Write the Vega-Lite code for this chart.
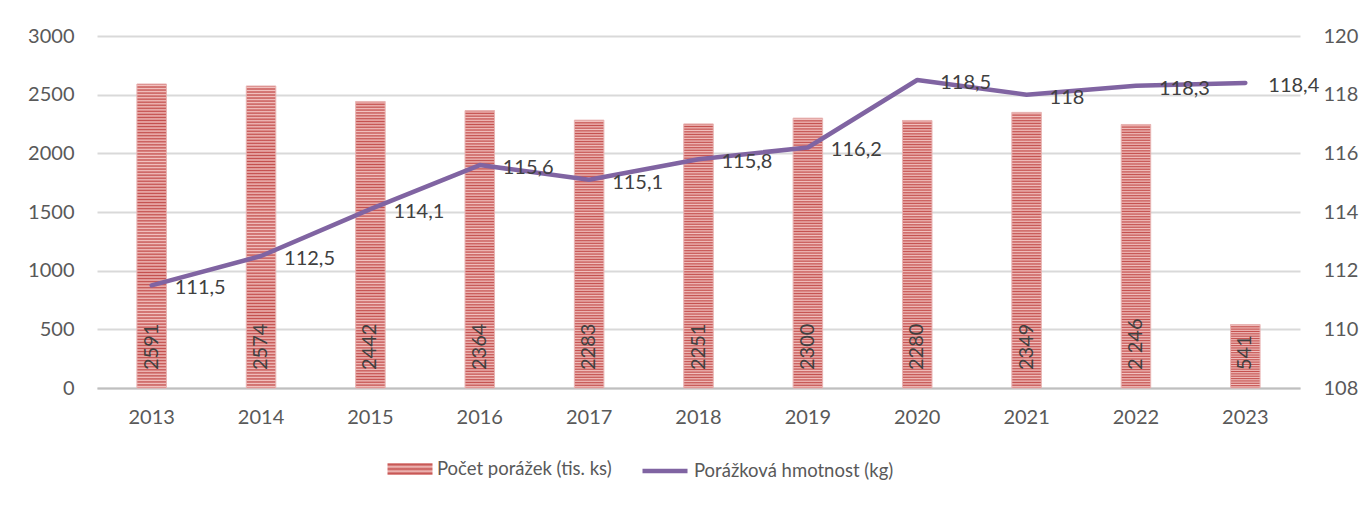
{
  "$schema": "https://vega.github.io/schema/vega-lite/v6.json",
  "width": 1203,
  "height": 352,
  "autosize": {"type": "none"},
  "padding": {"left": 97, "top": 36, "right": 69, "bottom": 117},
  "background": "white",
  "config": {
    "font": "Lato",
    "view": {"stroke": null},
    "axis": {"labelFont": "Lato", "labelFontSize": 20, "labelColor": "#595959", "title": null},
    "legend": {"labelFont": "Lato", "labelFontSize": 18.5, "labelColor": "#595959", "labelLimit": 500}
  },
  "data": {
    "values": [
      {"year": "2013", "count": 2591, "countLabel": "2591", "weight": 111.5, "weightLabel": "111,5"},
      {"year": "2014", "count": 2574, "countLabel": "2574", "weight": 112.5, "weightLabel": "112,5"},
      {"year": "2015", "count": 2442, "countLabel": "2442", "weight": 114.1, "weightLabel": "114,1"},
      {"year": "2016", "count": 2364, "countLabel": "2364", "weight": 115.6, "weightLabel": "115,6"},
      {"year": "2017", "count": 2283, "countLabel": "2283", "weight": 115.1, "weightLabel": "115,1"},
      {"year": "2018", "count": 2251, "countLabel": "2251", "weight": 115.8, "weightLabel": "115,8"},
      {"year": "2019", "count": 2300, "countLabel": "2300", "weight": 116.2, "weightLabel": "116,2"},
      {"year": "2020", "count": 2280, "countLabel": "2280", "weight": 118.5, "weightLabel": "118,5"},
      {"year": "2021", "count": 2349, "countLabel": "2349", "weight": 118.0, "weightLabel": "118"},
      {"year": "2022", "count": 2246, "countLabel": "2 246", "weight": 118.3, "weightLabel": "118,3"},
      {"year": "2023", "count": 541, "countLabel": "541", "weight": 118.4, "weightLabel": "118,4"}
    ]
  },
  "encoding": {
    "x": {
      "field": "year",
      "type": "nominal",
      "sort": null,
      "scale": {"paddingInner": 0.73, "paddingOuter": 0.365},
      "axis": {"labelAngle": 0, "ticks": false, "domainColor": "#BFBFBF", "domainWidth": 2, "labelPadding": 19, "grid": false}
    }
  },
  "layer": [
    {
      "layer": [
        {
          "mark": {"type": "bar", "stroke": "#E8B4B3", "strokeWidth": 1,
            "fill": {"gradient": "linear", "x1": 0, "y1": 0, "x2": 0, "y2": 1, "stops": [
                  {"offset": 0, "color": "#C4504E"}, {"offset": 0.005, "color": "#F2C2C0"},
                  {"offset": 0.01, "color": "#C4504E"}, {"offset": 0.015, "color": "#F2C2C0"},
                  {"offset": 0.02, "color": "#C4504E"}, {"offset": 0.025, "color": "#F2C2C0"},
                  {"offset": 0.03, "color": "#C4504E"}, {"offset": 0.035, "color": "#F2C2C0"},
                  {"offset": 0.04, "color": "#C4504E"}, {"offset": 0.045, "color": "#F2C2C0"},
                  {"offset": 0.05, "color": "#C4504E"}, {"offset": 0.055, "color": "#F2C2C0"},
                  {"offset": 0.06, "color": "#C4504E"}, {"offset": 0.065, "color": "#F2C2C0"},
                  {"offset": 0.07, "color": "#C4504E"}, {"offset": 0.075, "color": "#F2C2C0"},
                  {"offset": 0.08, "color": "#C4504E"}, {"offset": 0.085, "color": "#F2C2C0"},
                  {"offset": 0.09, "color": "#C4504E"}, {"offset": 0.095, "color": "#F2C2C0"},
                  {"offset": 0.1, "color": "#C4504E"}, {"offset": 0.105, "color": "#F2C2C0"},
                  {"offset": 0.11, "color": "#C4504E"}, {"offset": 0.115, "color": "#F2C2C0"},
                  {"offset": 0.12, "color": "#C4504E"}, {"offset": 0.125, "color": "#F2C2C0"},
                  {"offset": 0.13, "color": "#C4504E"}, {"offset": 0.135, "color": "#F2C2C0"},
                  {"offset": 0.14, "color": "#C4504E"}, {"offset": 0.145, "color": "#F2C2C0"},
                  {"offset": 0.15, "color": "#C4504E"}, {"offset": 0.155, "color": "#F2C2C0"},
                  {"offset": 0.16, "color": "#C4504E"}, {"offset": 0.165, "color": "#F2C2C0"},
                  {"offset": 0.17, "color": "#C4504E"}, {"offset": 0.175, "color": "#F2C2C0"},
                  {"offset": 0.18, "color": "#C4504E"}, {"offset": 0.185, "color": "#F2C2C0"},
                  {"offset": 0.19, "color": "#C4504E"}, {"offset": 0.195, "color": "#F2C2C0"},
                  {"offset": 0.2, "color": "#C4504E"}, {"offset": 0.205, "color": "#F2C2C0"},
                  {"offset": 0.21, "color": "#C4504E"}, {"offset": 0.215, "color": "#F2C2C0"},
                  {"offset": 0.22, "color": "#C4504E"}, {"offset": 0.225, "color": "#F2C2C0"},
                  {"offset": 0.23, "color": "#C4504E"}, {"offset": 0.235, "color": "#F2C2C0"},
                  {"offset": 0.24, "color": "#C4504E"}, {"offset": 0.245, "color": "#F2C2C0"},
                  {"offset": 0.25, "color": "#C4504E"}, {"offset": 0.255, "color": "#F2C2C0"},
                  {"offset": 0.26, "color": "#C4504E"}, {"offset": 0.265, "color": "#F2C2C0"},
                  {"offset": 0.27, "color": "#C4504E"}, {"offset": 0.275, "color": "#F2C2C0"},
                  {"offset": 0.28, "color": "#C4504E"}, {"offset": 0.285, "color": "#F2C2C0"},
                  {"offset": 0.29, "color": "#C4504E"}, {"offset": 0.295, "color": "#F2C2C0"},
                  {"offset": 0.3, "color": "#C4504E"}, {"offset": 0.305, "color": "#F2C2C0"},
                  {"offset": 0.31, "color": "#C4504E"}, {"offset": 0.315, "color": "#F2C2C0"},
                  {"offset": 0.32, "color": "#C4504E"}, {"offset": 0.325, "color": "#F2C2C0"},
                  {"offset": 0.33, "color": "#C4504E"}, {"offset": 0.335, "color": "#F2C2C0"},
                  {"offset": 0.34, "color": "#C4504E"}, {"offset": 0.345, "color": "#F2C2C0"},
                  {"offset": 0.35, "color": "#C4504E"}, {"offset": 0.355, "color": "#F2C2C0"},
                  {"offset": 0.36, "color": "#C4504E"}, {"offset": 0.365, "color": "#F2C2C0"},
                  {"offset": 0.37, "color": "#C4504E"}, {"offset": 0.375, "color": "#F2C2C0"},
                  {"offset": 0.38, "color": "#C4504E"}, {"offset": 0.385, "color": "#F2C2C0"},
                  {"offset": 0.39, "color": "#C4504E"}, {"offset": 0.395, "color": "#F2C2C0"},
                  {"offset": 0.4, "color": "#C4504E"}, {"offset": 0.405, "color": "#F2C2C0"},
                  {"offset": 0.41, "color": "#C4504E"}, {"offset": 0.415, "color": "#F2C2C0"},
                  {"offset": 0.42, "color": "#C4504E"}, {"offset": 0.425, "color": "#F2C2C0"},
                  {"offset": 0.43, "color": "#C4504E"}, {"offset": 0.435, "color": "#F2C2C0"},
                  {"offset": 0.44, "color": "#C4504E"}, {"offset": 0.445, "color": "#F2C2C0"},
                  {"offset": 0.45, "color": "#C4504E"}, {"offset": 0.455, "color": "#F2C2C0"},
                  {"offset": 0.46, "color": "#C4504E"}, {"offset": 0.465, "color": "#F2C2C0"},
                  {"offset": 0.47, "color": "#C4504E"}, {"offset": 0.475, "color": "#F2C2C0"},
                  {"offset": 0.48, "color": "#C4504E"}, {"offset": 0.485, "color": "#F2C2C0"},
                  {"offset": 0.49, "color": "#C4504E"}, {"offset": 0.495, "color": "#F2C2C0"},
                  {"offset": 0.5, "color": "#C4504E"}, {"offset": 0.505, "color": "#F2C2C0"},
                  {"offset": 0.51, "color": "#C4504E"}, {"offset": 0.515, "color": "#F2C2C0"},
                  {"offset": 0.52, "color": "#C4504E"}, {"offset": 0.525, "color": "#F2C2C0"},
                  {"offset": 0.53, "color": "#C4504E"}, {"offset": 0.535, "color": "#F2C2C0"},
                  {"offset": 0.54, "color": "#C4504E"}, {"offset": 0.545, "color": "#F2C2C0"},
                  {"offset": 0.55, "color": "#C4504E"}, {"offset": 0.555, "color": "#F2C2C0"},
                  {"offset": 0.56, "color": "#C4504E"}, {"offset": 0.565, "color": "#F2C2C0"},
                  {"offset": 0.57, "color": "#C4504E"}, {"offset": 0.575, "color": "#F2C2C0"},
                  {"offset": 0.58, "color": "#C4504E"}, {"offset": 0.585, "color": "#F2C2C0"},
                  {"offset": 0.59, "color": "#C4504E"}, {"offset": 0.595, "color": "#F2C2C0"},
                  {"offset": 0.6, "color": "#C4504E"}, {"offset": 0.605, "color": "#F2C2C0"},
                  {"offset": 0.61, "color": "#C4504E"}, {"offset": 0.615, "color": "#F2C2C0"},
                  {"offset": 0.62, "color": "#C4504E"}, {"offset": 0.625, "color": "#F2C2C0"},
                  {"offset": 0.63, "color": "#C4504E"}, {"offset": 0.635, "color": "#F2C2C0"},
                  {"offset": 0.64, "color": "#C4504E"}, {"offset": 0.645, "color": "#F2C2C0"},
                  {"offset": 0.65, "color": "#C4504E"}, {"offset": 0.655, "color": "#F2C2C0"},
                  {"offset": 0.66, "color": "#C4504E"}, {"offset": 0.665, "color": "#F2C2C0"},
                  {"offset": 0.67, "color": "#C4504E"}, {"offset": 0.675, "color": "#F2C2C0"},
                  {"offset": 0.68, "color": "#C4504E"}, {"offset": 0.685, "color": "#F2C2C0"},
                  {"offset": 0.69, "color": "#C4504E"}, {"offset": 0.695, "color": "#F2C2C0"},
                  {"offset": 0.7, "color": "#C4504E"}, {"offset": 0.705, "color": "#F2C2C0"},
                  {"offset": 0.71, "color": "#C4504E"}, {"offset": 0.715, "color": "#F2C2C0"},
                  {"offset": 0.72, "color": "#C4504E"}, {"offset": 0.725, "color": "#F2C2C0"},
                  {"offset": 0.73, "color": "#C4504E"}, {"offset": 0.735, "color": "#F2C2C0"},
                  {"offset": 0.74, "color": "#C4504E"}, {"offset": 0.745, "color": "#F2C2C0"},
                  {"offset": 0.75, "color": "#C4504E"}, {"offset": 0.755, "color": "#F2C2C0"},
                  {"offset": 0.76, "color": "#C4504E"}, {"offset": 0.765, "color": "#F2C2C0"},
                  {"offset": 0.77, "color": "#C4504E"}, {"offset": 0.775, "color": "#F2C2C0"},
                  {"offset": 0.78, "color": "#C4504E"}, {"offset": 0.785, "color": "#F2C2C0"},
                  {"offset": 0.79, "color": "#C4504E"}, {"offset": 0.795, "color": "#F2C2C0"},
                  {"offset": 0.8, "color": "#C4504E"}, {"offset": 0.805, "color": "#F2C2C0"},
                  {"offset": 0.81, "color": "#C4504E"}, {"offset": 0.815, "color": "#F2C2C0"},
                  {"offset": 0.82, "color": "#C4504E"}, {"offset": 0.825, "color": "#F2C2C0"},
                  {"offset": 0.83, "color": "#C4504E"}, {"offset": 0.835, "color": "#F2C2C0"},
                  {"offset": 0.84, "color": "#C4504E"}, {"offset": 0.845, "color": "#F2C2C0"},
                  {"offset": 0.85, "color": "#C4504E"}, {"offset": 0.855, "color": "#F2C2C0"},
                  {"offset": 0.86, "color": "#C4504E"}, {"offset": 0.865, "color": "#F2C2C0"},
                  {"offset": 0.87, "color": "#C4504E"}, {"offset": 0.875, "color": "#F2C2C0"},
                  {"offset": 0.88, "color": "#C4504E"}, {"offset": 0.885, "color": "#F2C2C0"},
                  {"offset": 0.89, "color": "#C4504E"}, {"offset": 0.895, "color": "#F2C2C0"},
                  {"offset": 0.9, "color": "#C4504E"}, {"offset": 0.905, "color": "#F2C2C0"},
                  {"offset": 0.91, "color": "#C4504E"}, {"offset": 0.915, "color": "#F2C2C0"},
                  {"offset": 0.92, "color": "#C4504E"}, {"offset": 0.925, "color": "#F2C2C0"},
                  {"offset": 0.93, "color": "#C4504E"}, {"offset": 0.935, "color": "#F2C2C0"},
                  {"offset": 0.94, "color": "#C4504E"}, {"offset": 0.945, "color": "#F2C2C0"},
                  {"offset": 0.95, "color": "#C4504E"}, {"offset": 0.955, "color": "#F2C2C0"},
                  {"offset": 0.96, "color": "#C4504E"}, {"offset": 0.965, "color": "#F2C2C0"},
                  {"offset": 0.97, "color": "#C4504E"}, {"offset": 0.975, "color": "#F2C2C0"},
                  {"offset": 0.98, "color": "#C4504E"}, {"offset": 0.985, "color": "#F2C2C0"},
                  {"offset": 0.99, "color": "#C4504E"}, {"offset": 0.995, "color": "#F2C2C0"},
                  {"offset": 1, "color": "#C4504E"}
                ]}
          },
          "encoding": {
            "y": {
              "field": "count",
              "type": "quantitative",
              "scale": {"domain": [0, 3000], "nice": false},
              "axis": {"values": [0, 500, 1000, 1500, 2000, 2500, 3000], "format": "d", "grid": true, "gridColor": "#D9D9D9", "gridWidth": 2, "domain": false, "ticks": false, "labelPadding": 23}
            },
            "opacity": {
              "datum": "Počet porážek (tis. ks)",
              "type": "nominal",
              "scale": {"range": [1]},
              "legend": {
                "title": null,
                "orient": "none",
                "legendX": 290,
                "legendY": 410,
                "symbolType": "M-1,-0.27H1V0.27H-1Z",
                "symbolSize": 2025,
                "symbolFillColor": "#DB8A89",
                "symbolStrokeColor": "#E8B4B3",
                "symbolStrokeWidth": 1,
                "labelOffset": 4,
                "encode": {"symbols": {"update": {"fill": {"value": {"gradient": "linear", "x1": 0, "y1": 0, "x2": 0, "y2": 1, "stops": [
                  {"offset": 0, "color": "#C4504E"}, {"offset": 0.1, "color": "#F2C2C0"},
                  {"offset": 0.2, "color": "#C4504E"}, {"offset": 0.3, "color": "#F2C2C0"},
                  {"offset": 0.4, "color": "#C4504E"}, {"offset": 0.5, "color": "#F2C2C0"},
                  {"offset": 0.6, "color": "#C4504E"}, {"offset": 0.7, "color": "#F2C2C0"},
                  {"offset": 0.8, "color": "#C4504E"}, {"offset": 0.9, "color": "#F2C2C0"},
                  {"offset": 1, "color": "#C4504E"}
                ]}}}}}
              }
            }
          }
        },
        {
          "mark": {"type": "text", "angle": 270, "align": "left", "baseline": "middle", "dx": 18, "fontSize": 20, "color": "#404040", "font": "Lato"},
          "encoding": {
            "y": {"datum": 0, "type": "quantitative"},
            "text": {"field": "countLabel", "type": "nominal"}
          }
        }
      ]
    },
    {
      "layer": [
        {
          "mark": {"type": "line", "strokeWidth": 4.5, "strokeCap": "round", "strokeJoin": "round"},
          "encoding": {
            "y": {
              "field": "weight",
              "type": "quantitative",
              "scale": {"domain": [108, 120], "nice": false, "zero": false},
              "axis": {"orient": "right", "values": [108, 110, 112, 114, 116, 118, 120], "grid": false, "domain": false, "ticks": false, "labelPadding": 23}
            },
            "stroke": {
              "datum": "Porážková hmotnost (kg)",
              "scale": {"range": ["#8064A2"]},
              "legend": {
                "title": null,
                "orient": "none",
                "legendX": 543,
                "legendY": 410,
                "symbolType": "stroke",
                "symbolSize": 2025,
                "symbolStrokeWidth": 4.5,
                "labelOffset": 4
              }
            }
          }
        },
        {
          "mark": {"type": "text", "align": "left", "baseline": "middle", "dx": 23, "dy": 3, "fontSize": 20, "color": "#404040", "font": "Lato"},
          "encoding": {
            "y": {"field": "weight", "type": "quantitative"},
            "text": {"field": "weightLabel", "type": "nominal"}
          }
        }
      ]
    }
  ],
  "resolve": {"scale": {"y": "independent"}}
}
